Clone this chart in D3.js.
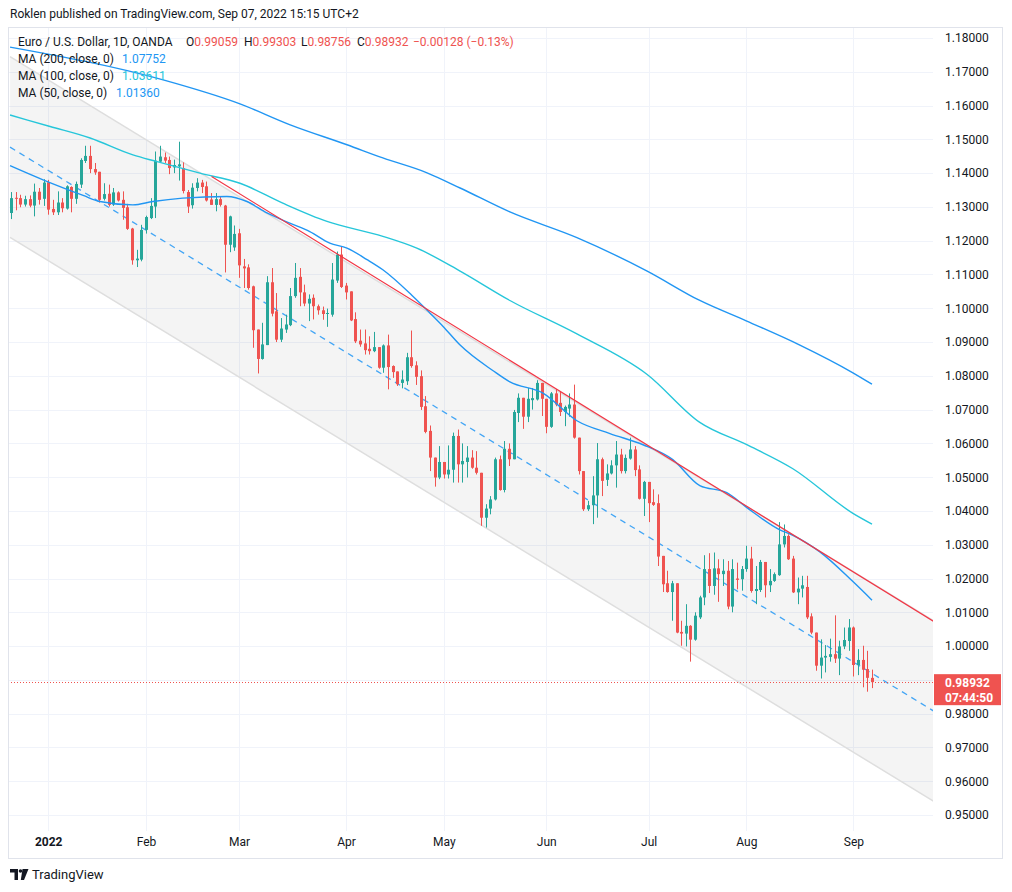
<!DOCTYPE html>
<html>
<head>
<meta charset="utf-8">
<script src="https://cdn.jsdelivr.net/npm/d3@7"></script>
<style>
  html, body { margin: 0; padding: 0; background: #ffffff; }
  svg { display: block; font-family: Roboto, "Noto Sans", "DejaVu Sans", sans-serif; }
</style>
</head>
<body>
<svg id="chart" width="1012" height="892"></svg>
<script>
// ---------------- DATA ----------------
// Daily EUR/USD candles, one per trading day, starting 8 bars before 3 Jan 2022 (index -8) through 7 Sep 2022 (index 177)
const firstIndex = -8;
const ohlc = [
  [1.1282,1.1344,1.1264,1.1326],[1.1327,1.1344,1.1290,1.1324],[1.1326,1.1336,1.1299,1.1307],[1.1307,1.1333,1.1301,1.1323],
  [1.1323,1.1334,1.1299,1.1304],[1.1304,1.1369,1.1272,1.1345],[1.1345,1.1356,1.1307,1.1321],[1.1324,1.1382,1.1303,1.1372],
  // Jan 2022
  [1.1373,1.1380,1.1277,1.1292],[1.1294,1.1321,1.1276,1.1284],[1.1284,1.1346,1.1276,1.1313],[1.1313,1.1326,1.1284,1.1296],
  [1.1295,1.1364,1.1292,1.1361],[1.1359,1.1361,1.1284,1.1324],[1.1324,1.1375,1.1309,1.1368],[1.1366,1.1444,1.1356,1.1439],
  [1.1436,1.1481,1.1430,1.1451],[1.1451,1.1481,1.1400,1.1412],[1.1412,1.1430,1.1395,1.1402],[1.1404,1.1404,1.1313,1.1321],
  [1.1324,1.1370,1.1319,1.1338],[1.1339,1.1366,1.1301,1.1306],[1.1307,1.1356,1.1303,1.1343],[1.1343,1.1346,1.1316,1.1319],
  [1.1321,1.1346,1.1262,1.1297],[1.1299,1.1309,1.1232,1.1235],[1.1236,1.1238,1.1129,1.1142],[1.1142,1.1173,1.1122,1.1147],
  [1.1144,1.1247,1.1139,1.1232],
  // Feb
  [1.1232,1.1274,1.1221,1.1270],[1.1267,1.1326,1.1264,1.1303],[1.1301,1.1464,1.1267,1.1437],[1.1434,1.1481,1.1430,1.1449],
  [1.1447,1.1461,1.1430,1.1437],[1.1439,1.1449,1.1397,1.1415],[1.1417,1.1440,1.1400,1.1424],[1.1420,1.1493,1.1378,1.1426],
  [1.1415,1.1432,1.1340,1.1347],[1.1344,1.1350,1.1282,1.1301],[1.1305,1.1370,1.1295,1.1357],[1.1356,1.1385,1.1346,1.1372],
  [1.1372,1.1380,1.1341,1.1359],[1.1361,1.1375,1.1316,1.1319],[1.1322,1.1341,1.1306,1.1306],[1.1306,1.1341,1.1287,1.1323],
  [1.1323,1.1331,1.1301,1.1306],[1.1304,1.1306,1.1106,1.1188],[1.1188,1.1274,1.1166,1.1272],[1.1180,1.1245,1.1170,1.1220],
  // Mar
  [1.1222,1.1235,1.1090,1.1127],[1.1124,1.1146,1.1060,1.1118],[1.1121,1.1130,1.1055,1.1060],[1.1065,1.1067,1.0883,1.0935],
  [1.0937,1.0937,1.0807,1.0850],[1.0850,1.0957,1.0848,1.0893],[1.0891,1.1095,1.0891,1.1077],[1.1077,1.1119,1.0976,1.0984],
  [1.0991,1.1045,1.0900,1.0907],[1.0907,1.0971,1.0900,1.0940],[1.0937,1.0981,1.0927,1.0952],[1.0950,1.1060,1.0947,1.1036],
  [1.1036,1.1134,1.1031,1.1090],[1.1093,1.1119,1.1006,1.1047],[1.1047,1.1070,1.1006,1.1014],[1.1014,1.1041,1.0962,1.1028],
  [1.1031,1.1041,1.0967,1.1006],[1.1006,1.1011,1.0981,1.0994],[1.0994,1.1005,1.0966,1.0983],[1.0983,1.0999,1.0945,1.0986],
  [1.0981,1.1134,1.0975,1.1085],[1.1082,1.1168,1.1075,1.1159],[1.1159,1.1183,1.1060,1.1063],
  // Apr
  [1.1067,1.1075,1.1026,1.1047],[1.1050,1.1050,1.0962,1.0964],[1.0968,1.0988,1.0897,1.0902],[1.0904,1.0937,1.0886,1.0893],
  [1.0896,1.0937,1.0863,1.0876],[1.0880,1.0917,1.0863,1.0873],[1.0873,1.0930,1.0870,1.0885],[1.0885,1.0885,1.0821,1.0824],
  [1.0824,1.0893,1.0809,1.0890],[1.0890,1.0922,1.0760,1.0826],[1.0829,1.0831,1.0794,1.0811],[1.0813,1.0813,1.0770,1.0775],
  [1.0779,1.0816,1.0763,1.0789],[1.0784,1.0868,1.0773,1.0855],[1.0855,1.0934,1.0824,1.0829],[1.0831,1.0843,1.0773,1.0797],
  [1.0799,1.0816,1.0699,1.0708],[1.0710,1.0740,1.0630,1.0634],[1.0637,1.0653,1.0518,1.0558],[1.0558,1.0558,1.0472,1.0499],
  [1.0499,1.0592,1.0494,1.0545],
  // May
  [1.0545,1.0545,1.0496,1.0508],[1.0508,1.0594,1.0496,1.0522],[1.0522,1.0632,1.0484,1.0622],[1.0622,1.0641,1.0484,1.0538],
  [1.0538,1.0600,1.0484,1.0548],[1.0545,1.0592,1.0499,1.0558],[1.0558,1.0580,1.0525,1.0528],[1.0528,1.0577,1.0508,1.0513],
  [1.0513,1.0513,1.0356,1.0380],[1.0380,1.0420,1.0351,1.0407],[1.0407,1.0444,1.0390,1.0434],[1.0434,1.0558,1.0431,1.0553],
  [1.0553,1.0564,1.0460,1.0462],[1.0462,1.0607,1.0455,1.0584],[1.0584,1.0600,1.0533,1.0553],[1.0553,1.0699,1.0553,1.0693],
  [1.0690,1.0748,1.0663,1.0735],[1.0735,1.0735,1.0643,1.0679],[1.0679,1.0764,1.0663,1.0732],[1.0728,1.0764,1.0700,1.0734],
  [1.0730,1.0787,1.0727,1.0779],[1.0779,1.0779,1.0681,1.0732],
  // Jun
  [1.0732,1.0732,1.0630,1.0649],[1.0649,1.0752,1.0646,1.0748],[1.0748,1.0761,1.0710,1.0715],[1.0720,1.0752,1.0681,1.0693],
  [1.0693,1.0712,1.0651,1.0708],[1.0703,1.0748,1.0679,1.0715],[1.0715,1.0774,1.0614,1.0617],[1.0617,1.0617,1.0508,1.0518],
  [1.0518,1.0518,1.0400,1.0405],[1.0405,1.0430,1.0400,1.0417],[1.0417,1.0503,1.0361,1.0446],[1.0446,1.0601,1.0380,1.0553],
  [1.0553,1.0558,1.0444,1.0489],[1.0492,1.0538,1.0474,1.0511],[1.0511,1.0550,1.0508,1.0535],[1.0535,1.0607,1.0469,1.0567],
  [1.0567,1.0584,1.0511,1.0518],[1.0518,1.0567,1.0511,1.0557],[1.0555,1.0617,1.0552,1.0582],[1.0582,1.0592,1.0503,1.0521],
  [1.0523,1.0535,1.0434,1.0436],[1.0436,1.0489,1.0385,1.0486],
  // Jul
  [1.0486,1.0486,1.0367,1.0423],[1.0426,1.0464,1.0415,1.0418],[1.0423,1.0449,1.0237,1.0265],[1.0267,1.0267,1.0160,1.0183],
  [1.0186,1.0223,1.0158,1.0160],[1.0160,1.0193,1.0075,1.0186],[1.0186,1.0186,1.0038,1.0040],[1.0042,1.0075,1.0001,1.0037],
  [1.0037,1.0124,0.9999,1.0060],[1.0060,1.0062,0.9954,1.0019],[1.0019,1.0100,1.0016,1.0090],[1.0085,1.0149,1.0080,1.0144],
  [1.0144,1.0269,1.0121,1.0228],[1.0228,1.0275,1.0157,1.0178],[1.0178,1.0277,1.0152,1.0230],[1.0230,1.0257,1.0131,1.0213],
  [1.0213,1.0257,1.0178,1.0223],[1.0223,1.0252,1.0109,1.0117],[1.0117,1.0257,1.0100,1.0228],[1.0200,1.0247,1.0168,1.0196],
  [1.0198,1.0237,1.0164,1.0228],
  // Aug
  [1.0228,1.0297,1.0220,1.0259],[1.0259,1.0294,1.0158,1.0163],[1.0163,1.0237,1.0124,1.0169],[1.0166,1.0255,1.0160,1.0249],
  [1.0249,1.0249,1.0144,1.0180],[1.0180,1.0228,1.0160,1.0193],[1.0193,1.0218,1.0190,1.0213],[1.0210,1.0367,1.0208,1.0301],
  [1.0301,1.0360,1.0292,1.0326],[1.0326,1.0331,1.0255,1.0257],[1.0259,1.0267,1.0157,1.0159],[1.0159,1.0203,1.0124,1.0170],
  [1.0170,1.0208,1.0144,1.0180],[1.0175,1.0208,1.0080,1.0085],[1.0088,1.0097,1.0035,1.0040],[1.0040,1.0040,0.9927,0.9942],
  [0.9942,1.0020,0.9904,0.9966],[0.9966,1.0003,0.9922,0.9971],[0.9968,1.0022,0.9954,0.9976],[0.9976,1.0091,0.9950,0.9963],
  [0.9963,1.0016,0.9914,0.9999],[0.9999,1.0055,0.9991,1.0018],[1.0015,1.0080,0.9986,1.0055],
  // Sep
  [1.0055,1.0058,0.9910,0.9944],[0.9944,0.9991,0.9914,0.9959],[0.9959,1.0001,0.9878,0.9930],[0.9932,0.9986,0.9865,0.9906],
  [0.99059,0.99303,0.98756,0.98932]
];

// Moving averages: [bar index, value]
const ma200 = [[-8.2,1.1773],[24.7,1.1676],[41.2,1.1605],[52.0,1.1543],[64.2,1.1484],[71.9,1.1445],[81.4,1.1401],
  [88.5,1.1356],[99.2,1.1285],[113.6,1.1209],[128.7,1.1110],[140.0,1.1023],[150.1,1.0962],[161.5,1.0891],[172.9,1.0809],[177,1.07752]];
const ma100 = [[-8.2,1.1572],[0.4,1.1538],[9.0,1.1504],[18.2,1.1454],[23.4,1.1434],[32.6,1.1400],[41.2,1.1370],[50.4,1.1311],
  [59.9,1.1257],[71.9,1.1213],[79.2,1.1178],[88.5,1.1110],[99.2,1.1023],[113.6,1.0924],[128.7,1.0804],[140.0,1.0662],
  [150.1,1.0596],[160.0,1.0525],[172.9,1.0393],[177,1.03611]];
const ma50 = [[-8.2,1.1422],[-1.1,1.1380],[7.5,1.1334],[11.1,1.1316],[18.2,1.1306],[22.5,1.1316],[28.9,1.1326],[38.4,1.1331],
  [42.7,1.1316],[47.0,1.1282],[51.9,1.1252],[56.2,1.1227],[60.5,1.1193],[64.2,1.1178],[68.5,1.1144],[71.9,1.1114],[78.4,1.1035],
  [82.0,1.0986],[84.8,1.0947],[88.5,1.0891],[95.6,1.0815],[99.2,1.0782],[106.3,1.0749],[113.6,1.0667],[120.7,1.0629],
  [127.8,1.0596],[134.2,1.0552],[140.0,1.0475],[145.8,1.0454],[150.1,1.0410],[157.2,1.0344],[160.0,1.0328],[165.8,1.0279],
  [172.9,1.0191],[177,1.01360]];

// Drawn objects: parallel channel and red trend line (anchor bar index, price)
const channelIdx = [-8.2, 192];
const channelUpper = [1.1745, 1.0060];
const channelMid = [1.1477, 0.9793];
const channelLower = [1.1210, 0.9526];
const trendIdx = [35.1, 192];
const trendPrice = [1.1390, 1.0058];

// Axis ticks
const priceTicks = [0.95,0.96,0.97,0.98,0.99,1.00,1.01,1.02,1.03,1.04,1.05,1.06,1.07,1.08,1.09,1.10,1.11,1.12,1.13,1.14,1.15,1.16,1.17,1.18];
const monthIdx = [0, 21, 41, 64, 85, 107, 129, 150, 173];
const monthLabels = ["2022","Feb","Mar","Apr","May","Jun","Jul","Aug","Sep"];

// Legend values
const lastBar = {o: "0.99059", h: "0.99303", l: "0.98756", c: "0.98932", chg: "−0.00128 (−0.13%)"};
const lastPrice = 0.98932;
const countdown = "07:44:50";

// ---------------- DRAW ----------------
const svg = d3.select("#chart");
const W = 1012, H = 892;
const plot = {left: 8, right: 933, top: 28, bottom: 831};
const UP = "#26a69a", DOWN = "#ef5350", TXT = "#131722";

const x = d3.scaleLinear().domain([0, 177]).range([48.2, 872]);
const y = d3.scaleLinear().domain([0.95, 1.18]).range([815, 38]);

svg.append("rect").attr("width", W).attr("height", H).attr("fill", "#fff");

// header
svg.append("text").attr("x", 10).attr("y", 18).attr("font-size", 12).attr("fill", TXT)
  .text("Roklen published on TradingView.com, Sep 07, 2022 15:15 UTC+2");

// frame
svg.append("rect").attr("x", 8.5).attr("y", 27.5).attr("width", 994).attr("height", 831)
  .attr("fill", "none").attr("stroke", "#e0e3eb");

const defs = svg.append("defs");
defs.append("clipPath").attr("id", "plotclip").append("rect")
  .attr("x", plot.left + 1).attr("y", plot.top).attr("width", plot.right - plot.left - 1).attr("height", plot.bottom - plot.top);

const g = svg.append("g").attr("clip-path", "url(#plotclip)");

// grid
g.selectAll("line.hg").data(priceTicks).join("line")
  .attr("x1", plot.left).attr("x2", plot.right)
  .attr("y1", d => Math.round(y(d)) + 0.5).attr("y2", d => Math.round(y(d)) + 0.5)
  .attr("stroke", "#f0f3fa").attr("stroke-width", 1);
g.selectAll("line.vg").data(monthIdx).join("line")
  .attr("y1", plot.top).attr("y2", plot.bottom)
  .attr("x1", d => Math.round(x(d)) + 0.5).attr("x2", d => Math.round(x(d)) + 0.5)
  .attr("stroke", "#f0f3fa").attr("stroke-width", 1);

// channel
const chPoly = [[x(channelIdx[0]), y(channelUpper[0])], [x(channelIdx[1]), y(channelUpper[1])],
                [x(channelIdx[1]), y(channelLower[1])], [x(channelIdx[0]), y(channelLower[0])]];
g.append("path").attr("d", "M" + chPoly.map(p => p.join(",")).join("L") + "Z")
  .attr("fill", "rgba(0,0,0,0.045)");
const seg = (idx, pr, cls) => g.append("line").attr("class", cls)
  .attr("x1", x(idx[0])).attr("y1", y(pr[0])).attr("x2", x(idx[1])).attr("y2", y(pr[1]));
seg(channelIdx, channelUpper, "ch").attr("stroke", "#dedede").attr("stroke-width", 1.5);
seg(channelIdx, channelLower, "ch").attr("stroke", "#dedede").attr("stroke-width", 1.5);
seg(channelIdx, channelMid, "chm").attr("stroke", "#42a5f5").attr("stroke-width", 1.3).attr("stroke-dasharray", "6,5");

// candles
const candles = ohlc.map((d, k) => ({i: firstIndex + k, o: d[0], h: d[1], l: d[2], c: d[3]}));
const cg = g.append("g");
cg.selectAll("line.wick").data(candles).join("line")
  .attr("x1", d => Math.round(x(d.i)) + 0.5).attr("x2", d => Math.round(x(d.i)) + 0.5)
  .attr("y1", d => y(d.h)).attr("y2", d => y(d.l))
  .attr("stroke", d => d.c >= d.o ? UP : DOWN).attr("stroke-width", 1);
cg.selectAll("rect.body").data(candles).join("rect")
  .attr("x", d => Math.round(x(d.i)) - 1)
  .attr("width", 3)
  .attr("y", d => y(Math.max(d.o, d.c)))
  .attr("height", d => Math.max(1, Math.abs(y(d.o) - y(d.c))))
  .attr("fill", d => d.c >= d.o ? UP : DOWN);

// moving averages
const maLine = d3.line().x(d => x(d[0])).y(d => y(d[1])).curve(d3.curveMonotoneX);
g.append("path").datum(ma200).attr("d", maLine).attr("fill", "none").attr("stroke", "#2196f3").attr("stroke-width", 1.4);
g.append("path").datum(ma100).attr("d", maLine).attr("fill", "none").attr("stroke", "#26c6da").attr("stroke-width", 1.4);
g.append("path").datum(ma50).attr("d", maLine).attr("fill", "none").attr("stroke", "#2196f3").attr("stroke-width", 1.4);

// red trend line
seg(trendIdx, trendPrice, "tl").attr("stroke", "#f23645").attr("stroke-width", 1.2);

// last price dotted line
g.append("line").attr("x1", plot.left).attr("x2", plot.right)
  .attr("y1", Math.round(y(lastPrice)) + 0.5).attr("y2", Math.round(y(lastPrice)) + 0.5)
  .attr("stroke", DOWN).attr("stroke-width", 1).attr("stroke-dasharray", "1,2");

// price axis (labels hidden where the last-price label covers them)
const ly = y(lastPrice);
const yAxis = d3.axisRight(y).tickValues(priceTicks.filter(d => Math.abs(y(d) - (ly + 7)) > 20))
  .tickSize(0).tickPadding(12).tickFormat(d3.format(".5f"));
const ya = svg.append("g").attr("transform", `translate(${plot.right},0)`).call(yAxis);
ya.select(".domain").remove();
ya.selectAll("text").attr("font-size", 12).attr("fill", TXT).attr("font-family", "Roboto, sans-serif");

// last price label
svg.append("rect").attr("x", 934).attr("y", ly - 8).attr("width", 67).attr("height", 31).attr("fill", DOWN);
svg.append("text").attr("x", 945).attr("y", ly + 4.5).attr("font-size", 12).attr("font-weight", "bold").attr("fill", "#fff").text(lastPrice.toFixed(5));
svg.append("text").attr("x", 945).attr("y", ly + 19.5).attr("font-size", 12).attr("font-weight", "bold").attr("fill", "#fff").text(countdown);

// time axis
const xAxis = d3.axisBottom(x).tickValues(monthIdx).tickSize(0).tickPadding(6).tickFormat((d, k) => monthLabels[k]);
const xa = svg.append("g").attr("transform", `translate(0,${plot.bottom})`).call(xAxis);
xa.select(".domain").remove();
xa.selectAll("text").attr("font-size", 12).attr("fill", TXT).attr("font-family", "Roboto, sans-serif")
  .attr("font-weight", (d, k) => k === 0 ? "bold" : "normal");

// legend
const leg = svg.append("g").attr("font-size", 12);
leg.append("text").attr("x", 18).attr("y", 46).attr("fill", TXT).text("Euro / U.S. Dollar, 1D, OANDA");
const ohlcLeg = [["O", lastBar.o, 186], ["H", lastBar.h, 244], ["L", lastBar.l, 301], ["C", lastBar.c, 357]];
ohlcLeg.forEach(([k, v, px]) => {
  const t = leg.append("text").attr("x", px).attr("y", 46);
  t.append("tspan").attr("fill", TXT).text(k);
  t.append("tspan").attr("fill", DOWN).text(v);
});
leg.append("text").attr("x", 413).attr("y", 46).attr("fill", DOWN).text(lastBar.chg);
const maLeg = [["MA (200, close, 0)", "1.07752", "#2196f3", 63, 122], ["MA (100, close, 0)", "1.03611", "#26c6da", 80, 122], ["MA (50, close, 0)", "1.01360", "#2196f3", 97, 116]];
maLeg.forEach(([lab, v, col, py, vx]) => {
  leg.append("text").attr("x", 18).attr("y", py).attr("fill", TXT).text(lab);
  leg.append("text").attr("x", vx).attr("y", py).attr("fill", col).text(v);
});

// footer logo
const logo = svg.append("g").attr("fill", TXT);
logo.append("path").attr("d", "M10,869 h8 v11 h-3.5 v-7.5 h-4.5 Z");
logo.append("circle").attr("cx", 20.5).attr("cy", 871).attr("r", 1.8);
logo.append("path").attr("d", "M22.5,869 h6 l-4.5,11 h-3.2 Z");
svg.append("text").attr("x", 32).attr("y", 879).attr("font-size", 13).attr("fill", TXT).text("TradingView");
</script>
</body>
</html>
